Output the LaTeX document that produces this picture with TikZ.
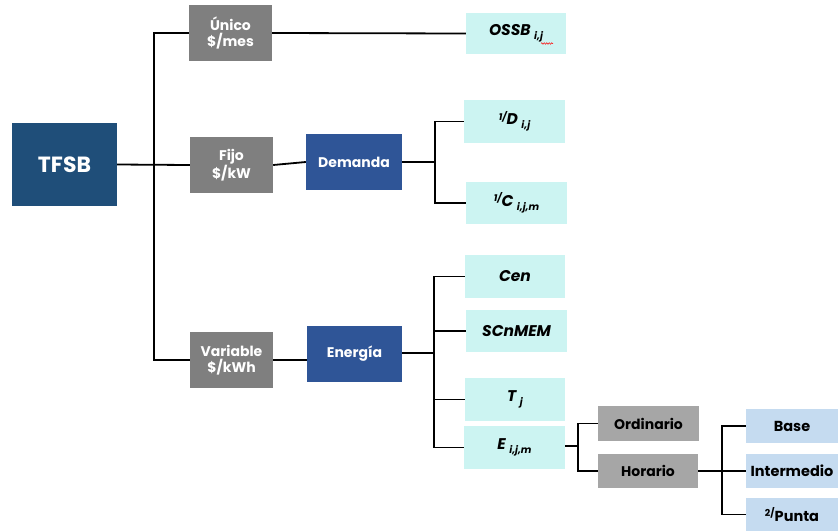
\documentclass[tikz,border=0pt]{standalone}
\usepackage{fontspec}
\setmainfont{Poppins}
\usetikzlibrary{decorations.pathmorphing}
\definecolor{cdark}{HTML}{1F4E79}
\definecolor{cgray}{HTML}{7F7F7F}
\definecolor{clgray}{HTML}{A6A6A6}
\definecolor{cblue}{HTML}{2F5597}
\definecolor{ccyan}{HTML}{CCF4F2}
\definecolor{clblue}{HTML}{C5DBF0}
\newcommand\sbs[1]{\hspace{3.5pt}\raisebox{-4pt}{\fontsize{10}{10}\selectfont #1}}
\newcommand\sps[1]{\raisebox{4.5pt}{\fontsize{9.5}{10}\selectfont #1}}
\tikzset{
  x=1pt,y=-1pt,
  box/.style={inner sep=0pt, align=center, font=\bfseries\fontsize{14}{16.5}\selectfont},
  rootbox/.style={box, fill=cdark, text=white, minimum width=105pt, minimum height=83pt, font=\bfseries\fontsize{22}{26}\selectfont},
  graybox/.style={box, fill=cgray, text=white, minimum width=83pt, minimum height=56pt},
  bluebox/.style={box, fill=cblue, text=white, minimum width=95pt, minimum height=56pt},
  cyanbox/.style={box, fill=ccyan, text=black, minimum width=101pt, minimum height=42pt, font=\bfseries\itshape\fontsize{15.5}{18}\selectfont},
  lgraybox/.style={box, fill=clgray, text=black, minimum width=100pt, minimum height=35pt},
  lbluebox/.style={box, fill=clblue, text=black, minimum width=92pt, minimum height=34pt, font=\bfseries\fontsize{14.5}{17}\selectfont},
  conn/.style={line width=1.8pt, black}
}
\begin{document}
\begin{tikzpicture}
\useasboundingbox (0,0) rectangle (838,531);
\node[rootbox] (tfsb) at (64.5,164.5) {TFSB};
\node[graybox] (unico) at (230.5,33) {Único\\\$/mes};
\node[graybox] (fijo) at (231.5,165) {Fijo\\\$/kW};
\node[graybox] (var) at (231.5,360) {Variable\\\$/kWh};
\node[bluebox, minimum width=96pt] (dem) at (354,162) {Demanda};
\node[bluebox] (ene) at (354.5,354) {Energía};
\node[cyanbox, minimum width=100pt, minimum height=41pt] (ossb) at (516,33.5) {OSSB\sbs{i,j}};
\node[cyanbox, minimum height=43pt] (d) at (514.5,121.5) {\sps{1/}D\sbs{i,j}};
\node[cyanbox] (c) at (516.5,203) {\sps{1/}C\sbs{i,j,m}};
\node[cyanbox, minimum width=100pt, minimum height=43pt] (cen) at (515,276.5) {Cen};
\node[cyanbox] (sc) at (516.5,331) {SCnMEM};
\node[cyanbox, minimum width=100pt, minimum height=43pt] (t) at (515,399.5) {T\sbs{j}};
\node[cyanbox, minimum height=43pt] (e) at (514.5,447.5) {E\sbs{i,j,m}};
\node[lgraybox, minimum width=101pt] (ord) at (648.5,423.5) {Ordinario};
\node[lgraybox, minimum height=34pt] (hor) at (648,471) {Horario};
\node[lbluebox] (base) at (792,426) {Base};
\node[lbluebox] (int) at (792,471) {Intermedio};
\node[lbluebox, minimum height=33pt] (pun) at (792,514.5) {\sps{2/}Punta};
% spell-check squiggle
\draw[red, line width=0.5pt, decorate, decoration={snake, amplitude=0.8pt, segment length=2.5pt}]
  ([xshift=25pt,yshift=-10pt]ossb.center) -- ([xshift=37pt,yshift=-10pt]ossb.center);
% connectors
\draw[conn] (tfsb.east) -- (fijo.west);
\draw[conn] (unico.west) -- ++(-35,0) |- (var.west);
\draw[conn] (unico.east) -- (ossb.west);
\draw[conn] (fijo.east) -- (dem.west);
\draw[conn] (var.east) -- (var.east -| ene.west);
\draw[conn] (dem.east) -- ++(33,0);
\draw[conn] (d.west) -- ++(-29,0) |- (c.west);
\draw[conn] ([yshift=1pt]ene.east) -- ++(32,0);
\draw[conn] (cen.west) -- ++(-31,0) |- (e.west);
\draw[conn] (sc.west) -- ++(-32,0);
\draw[conn] (t.west) -- ++(-31,0);
\draw[conn] ([yshift=1.5pt]e.east) -- ++(13,0);
\draw[conn] (ord.west) -- ++(-20,0) |- (hor.west);
\draw[conn] (hor.east) -- (int.west);
\draw[conn] (base.west) -- ++(-24,0) |- (pun.west);
\end{tikzpicture}
\end{document}
